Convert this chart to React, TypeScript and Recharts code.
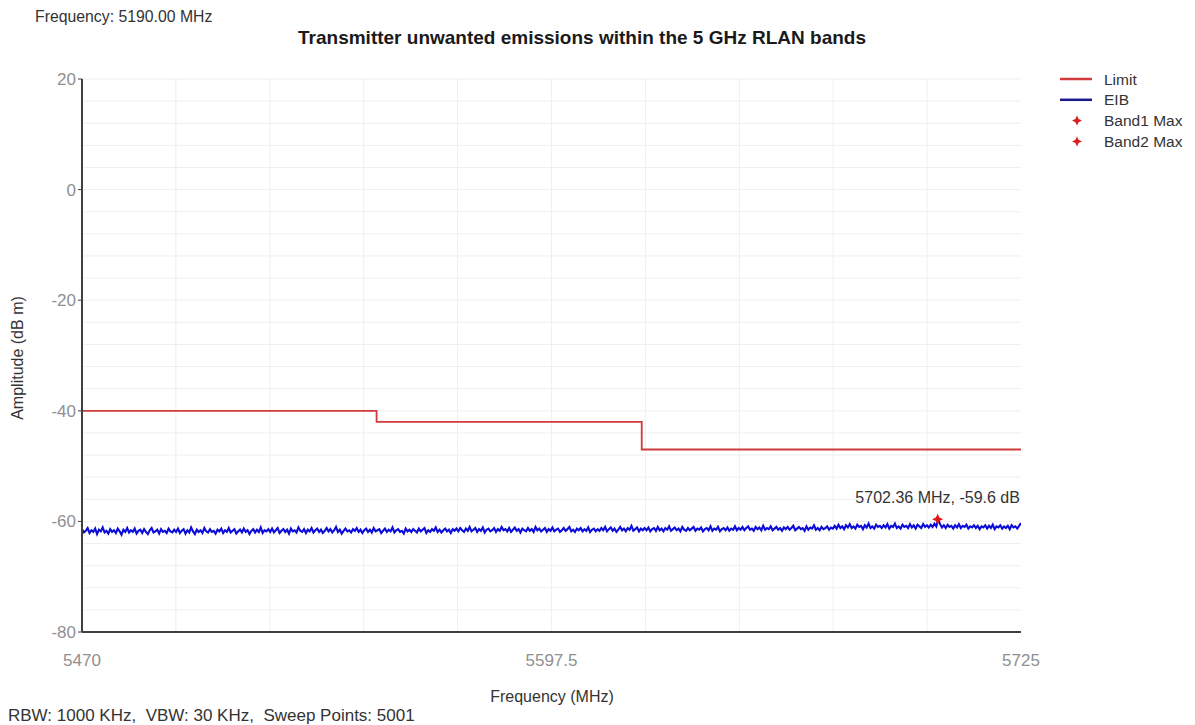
import React from 'react';
import { ComposedChart, Line, Scatter, XAxis, YAxis, ReferenceLine } from 'recharts';

// ---- data ----
const X_DOMAIN = [5470, 5725];
const X_TICKS = [5470, 5597.5, 5725];
const Y_DOMAIN = [-80, 20];
const Y_TICKS = [-80, -60, -40, -20, 0, 20];
const X_GRID = [5495.5, 5521, 5546.5, 5572, 5597.5, 5623, 5648.5, 5674, 5699.5];
const Y_GRID = [-76, -72, -68, -64, -60, -56, -52, -48, -44, -40, -36, -32, -28, -24, -20, -16, -12, -8, -4, 0, 4, 8, 12, 16, 20];

const LIMIT_FREQ = [5470, 5550, 5622, 5725];
const LIMIT_AMP = [-40, -42, -47, -47];

const EIB_START = 5470;
const EIB_STOP = 5725;
const EIB_AMP = [
  -61.4,-62.0,-61.7,-61.2,-62.1,-61.6,-61.9,-61.3,-62.3,-61.5,-61.8,-61.1,-62.0,-61.7,-62.2,-61.4,-61.9,-61.6,-62.1,-61.3,-61.8,-62.4,-61.5,-61.9,-61.2,
  -62.0,-61.6,-61.9,-61.3,-62.2,-61.7,-61.5,-62.1,-61.4,-61.9,-62.3,-61.6,-61.2,-62.0,-61.8,-61.5,-62.2,-61.4,-61.9,-61.7,-62.1,-61.3,-61.8,-62.0,-61.5,
  -61.9,-61.3,-62.1,-61.7,-61.4,-62.2,-61.6,-62.0,-61.1,-61.8,-62.3,-61.5,-61.9,-61.6,-62.1,-61.2,-61.8,-62.0,-61.4,-61.9,-61.7,-62.2,-61.5,-61.8,-61.3,
  -62.1,-61.6,-61.9,-61.2,-62.0,-61.7,-61.4,-62.2,-61.8,-61.5,-62.0,-61.3,-61.9,-61.6,-62.3,-61.7,-61.4,-62.0,-61.5,-61.9,-61.1,-62.1,-61.6,-61.8,-61.4,
  -61.9,-61.3,-62.0,-61.6,-61.2,-62.1,-61.7,-61.4,-61.9,-61.5,-62.2,-61.3,-61.8,-61.6,-62.0,-61.1,-61.7,-61.9,-61.4,-62.1,-61.5,-61.8,-61.2,-62.0,-61.6,
  -61.3,-61.9,-61.5,-62.1,-61.7,-61.2,-61.8,-61.4,-62.0,-61.6,-61.0,-61.9,-61.5,-62.2,-61.7,-61.3,-61.8,-61.6,-62.0,-61.4,-61.7,-61.2,-61.9,-61.5,-62.1,
  -61.6,-61.3,-61.9,-61.5,-62.0,-61.2,-61.8,-61.6,-61.4,-62.1,-61.7,-61.3,-61.9,-61.5,-61.8,-61.1,-62.0,-61.6,-61.4,-61.9,-61.7,-62.2,-61.3,-61.8,-61.5,
  -61.9,-61.4,-61.7,-62.0,-61.3,-61.8,-61.5,-61.2,-62.1,-61.6,-61.9,-61.4,-61.7,-61.1,-61.9,-61.5,-62.0,-61.6,-61.3,-61.8,-61.5,-62.1,-61.4,-61.7,-61.3,
  -61.8,-61.2,-61.6,-61.9,-61.3,-61.7,-61.0,-61.8,-61.5,-61.2,-61.9,-61.4,-61.7,-61.1,-62.0,-61.5,-61.3,-61.8,-61.6,-61.2,-61.9,-61.4,-61.7,-61.0,-61.6,
  -61.4,-61.8,-61.2,-61.9,-61.5,-61.1,-61.7,-61.4,-62.0,-61.3,-61.6,-61.8,-61.2,-61.7,-61.4,-61.9,-61.0,-61.6,-61.3,-61.8,-61.5,-61.2,-61.9,-61.4,-61.7,
  -61.1,-61.8,-61.5,-61.3,-61.9,-61.6,-61.2,-61.7,-61.4,-61.0,-61.8,-61.5,-61.9,-61.3,-61.6,-61.2,-61.8,-61.4,-61.7,-61.1,-61.9,-61.5,-61.3,-61.8,-61.4,
  -61.7,-61.2,-61.6,-61.0,-61.8,-61.4,-61.1,-61.7,-61.3,-61.9,-61.5,-61.0,-61.6,-61.3,-61.8,-61.2,-61.5,-60.8,-61.7,-61.4,-61.1,-61.8,-61.3,-61.6,-61.2,
  -61.6,-61.1,-61.8,-61.4,-61.2,-61.7,-61.0,-61.6,-61.3,-61.8,-61.2,-61.5,-60.9,-61.7,-61.4,-61.1,-61.6,-61.3,-61.8,-61.0,-61.5,-61.7,-61.2,-61.6,-61.3,
  -61.0,-61.7,-61.3,-61.5,-61.1,-61.8,-61.4,-61.2,-61.6,-60.9,-61.7,-61.3,-61.5,-61.0,-61.8,-61.4,-61.2,-61.6,-61.1,-61.7,-61.3,-61.5,-60.9,-61.6,-61.2,
  -61.5,-61.0,-61.6,-61.2,-60.9,-61.5,-61.3,-61.7,-61.0,-61.4,-61.1,-61.6,-60.8,-61.5,-61.2,-61.4,-60.9,-61.6,-61.3,-61.0,-61.5,-61.2,-61.7,-61.1,-61.4,
  -61.0,-61.5,-61.2,-60.8,-61.6,-61.3,-61.0,-61.4,-61.2,-61.7,-60.9,-61.5,-61.1,-61.3,-60.7,-61.5,-61.2,-61.6,-61.0,-61.4,-61.2,-60.9,-61.5,-61.1,-61.3,
  -60.8,-61.3,-60.6,-61.2,-60.9,-61.4,-60.7,-61.1,-60.5,-61.2,-60.9,-61.3,-60.6,-61.0,-60.8,-61.4,-60.7,-61.1,-60.4,-61.2,-60.9,-61.3,-60.6,-61.0,-60.8,
  -61.2,-60.7,-61.1,-60.5,-61.3,-60.8,-61.0,-60.4,-61.2,-60.9,-61.3,-60.6,-61.0,-60.8,-61.2,-60.5,-61.1,-60.7,-61.3,-60.6,-60.9,-61.2,-60.5,-61.0,-60.7,
  -61.1,-60.6,-61.0,-60.4,-60.9,-59.6,-60.5,-61.1,-60.7,-61.2,-60.6,-61.0,-60.8,-61.3,-60.7,-61.1,-60.5,-61.2,-60.8,-61.0,-60.6,-61.3,-60.9,-61.1,-60.7,
  -61.2,-60.8,-61.4,-60.9,-61.1,-60.7,-61.3,-60.8,-61.2,-60.6,-61.4,-60.9,-61.1,-60.7,-61.3,-60.9,-61.2,-60.8,-61.4,-60.7,-61.1,-60.9,-61.3,-60.8,-60.3,
];

const MARKER_FREQ = [5702.36];
const MARKER_AMP = [-59.6];
const MARKER_LABEL = ['5702.36 MHz, -59.6 dB'];

const LEGEND_NAMES = ['Limit', 'EIB', 'Band1 Max', 'Band2 Max'];
const LEGEND_KIND = ['line', 'line', 'star', 'star'];

const HEADER_TEXT = 'Frequency: 5190.00 MHz';
const TITLE_TEXT = 'Transmitter unwanted emissions within the 5 GHz RLAN bands';
const Y_LABEL = 'Amplitude (dB m)';
const X_LABEL = 'Frequency (MHz)';
const FOOTER_TEXT = 'RBW: 1000 KHz,  VBW: 30 KHz,  Sweep Points: 5001';

// ---- tables ----
const limitData = LIMIT_FREQ.map((f, i) => ({ f, a: LIMIT_AMP[i] }));
const eibStep = (EIB_STOP - EIB_START) / (EIB_AMP.length - 1);
const eibData = EIB_AMP.map((a, i) => ({ f: EIB_START + i * eibStep, a }));
const markerData = MARKER_FREQ.map((f, i) => ({ f, a: MARKER_AMP[i], label: MARKER_LABEL[i] }));

const RED = '#d03a3a';
const BLUE = '#0c0cd8';
const FONT = '"Liberation Sans", Arial, sans-serif';

const starPath = (x: number, y: number, r: number) => {
  const k = r * 0.32;
  return `M${x},${y - r} L${x + k},${y - k} L${x + r},${y} L${x + k},${y + k} L${x},${y + r} L${x - k},${y + k} L${x - r},${y} L${x - k},${y - k} Z`;
};

const MarkerShape = (props: any) => {
  const { cx, cy, payload } = props;
  return (
    <g>
      <path d={starPath(cx, cy, 5.5)} fill="#e01818" />
      <text x={cx} y={cy - 16} textAnchor="middle" fontSize={16} fill="#333" fontFamily={FONT}>
        {payload.label}
      </text>
    </g>
  );
};

export default function App() {
  return (
    <div style={{ position: 'absolute', left: 0, top: 0, width: 1195, height: 725, background: '#fff', fontFamily: FONT }}>
      <ComposedChart width={1195} height={725} margin={{ top: 79, right: 174, bottom: 53, left: 0 }}>
        {X_GRID.map((v) => (
          <ReferenceLine key={'gx' + v} x={v} stroke="#efefef" strokeWidth={1} />
        ))}
        {Y_GRID.map((v) => (
          <ReferenceLine key={'gy' + v} y={v} stroke="#efefef" strokeWidth={1} />
        ))}
        <XAxis
          dataKey="f"
          type="number"
          domain={X_DOMAIN}
          ticks={X_TICKS}
          allowDataOverflow
          height={40}
          tickSize={0}
          tickMargin={22}
          tickLine={false}
          axisLine={{ stroke: '#404040', strokeWidth: 2 }}
          tick={{ fontSize: 17, fill: '#909090', fontFamily: FONT }}
          interval={0}
        />
        <YAxis
          dataKey="a"
          type="number"
          domain={Y_DOMAIN}
          ticks={Y_TICKS}
          allowDataOverflow
          width={82}
          tickSize={4}
          tickMargin={2}
          tickLine={{ stroke: '#404040' }}
          axisLine={{ stroke: '#404040', strokeWidth: 2 }}
          tick={{ fontSize: 17, fill: '#909090', fontFamily: FONT }}
          interval={0}
        />
        <Line data={limitData} dataKey="a" type="stepAfter" stroke={RED} strokeWidth={1.8} dot={false} isAnimationActive={false} />
        <Line data={eibData} dataKey="a" type="linear" stroke={BLUE} strokeWidth={2.1} dot={false} isAnimationActive={false} />
        <Scatter data={markerData} dataKey="a" shape={MarkerShape} isAnimationActive={false} />
      </ComposedChart>
      <svg width={1195} height={725} style={{ position: 'absolute', left: 0, top: 0, pointerEvents: 'none' }} fontFamily={FONT}>
        <text x={35} y={22} fontSize={15.8} fill="#333">{HEADER_TEXT}</text>
        <text x={582} y={44} fontSize={19} fontWeight="bold" fill="#1a1a1a" textAnchor="middle">{TITLE_TEXT}</text>
        <text x={23} y={358} fontSize={16} fill="#333" textAnchor="middle" transform="rotate(-90 23 358)">{Y_LABEL}</text>
        <text x={552} y={702} fontSize={16} fill="#333" textAnchor="middle">{X_LABEL}</text>
        <text x={8} y={721} fontSize={17} fill="#333" style={{ whiteSpace: 'pre' }}>{FOOTER_TEXT}</text>
        {LEGEND_NAMES.map((name, i) => {
          const y = 79 + i * 20.8;
          return (
            <g key={name}>
              {LEGEND_KIND[i] === 'line' ? (
                <line x1={1060} x2={1092} y1={y} y2={y} stroke={i === 0 ? RED : '#1a1a8c'} strokeWidth={2.5} />
              ) : (
                <path d={starPath(1077, y, 5)} fill="#d82020" />
              )}
              <text x={1104} y={y + 5.5} fontSize={15.5} fill="#333">{name}</text>
            </g>
          );
        })}
      </svg>
    </div>
  );
}
